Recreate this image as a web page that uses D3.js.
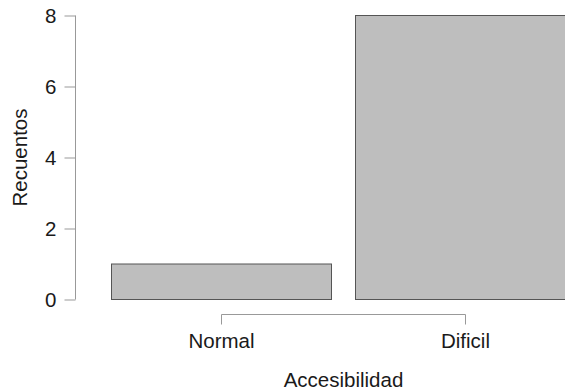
<!DOCTYPE html>
<html><head><meta charset="utf-8">
<script src="https://cdn.jsdelivr.net/npm/d3@7"></script>
<style>body{margin:0;background:#fff}svg{display:block}text{font-family:"Liberation Sans",Arial,sans-serif;fill:#1a1a1a}</style>
</head><body>
<script>
const categories = ["Normal", "Dificil"];
const counts = [1, 8];
const yTicks = [0, 2, 4, 6, 8];
const xTitle = "Accesibilidad";
const yTitle = "Recuentos";

const W = 565, H = 391;
const FS = "20.5px";
const svg = d3.select("body").append("svg").attr("width", W).attr("height", H);

const y = d3.scaleLinear().domain([0, 8]).range([299.5, 15.5]);
const x = d3.scaleBand().domain(categories).range([111, 575]).paddingInner(24 / 244).paddingOuter(0);

svg.selectAll("rect.bar").data(categories).enter().append("rect")
  .attr("class", "bar")
  .attr("x", d => Math.round(x(d)) + 0.5)
  .attr("width", Math.round(x.bandwidth()))
  .attr("y", (d, i) => y(counts[i]))
  .attr("height", (d, i) => y(0) - y(counts[i]))
  .attr("fill", "#bebebe").attr("stroke", "#555").attr("stroke-width", 1);

// y axis
const yAxis = d3.axisLeft(y).tickValues(yTicks).tickSize(11).tickPadding(8).tickSizeOuter(0);
const gy = svg.append("g").attr("transform", "translate(75.5,0)").call(yAxis);
gy.select(".domain").attr("stroke", "#999").attr("d", `M0,${y(0)}V${y(8)}`);
gy.selectAll(".tick line").attr("stroke", "#999");
gy.selectAll(".tick text").style("font-size", FS).attr("fill", "#1a1a1a").attr("dy", "0.36em");

// x axis
const centers = categories.map(d => Math.round(x(d)) + 0.5 + Math.round(x.bandwidth()) / 2);
const xAxis = d3.axisBottom(x).tickSize(10).tickPadding(9).tickSizeOuter(0);
const gx = svg.append("g").attr("transform", "translate(0,314.5)").call(xAxis);
gx.select(".domain").attr("stroke", "#999").attr("d", `M${centers[0]},0H${centers[1]}`);
gx.selectAll(".tick").attr("transform", (d, i) => `translate(${centers[i]},0)`);
gx.selectAll(".tick line").attr("stroke", "#999");
gx.selectAll(".tick text").style("font-size", FS).attr("fill", "#1a1a1a");

svg.append("text").attr("x", (centers[0] + centers[1]) / 2).attr("y", 387)
  .attr("text-anchor", "middle").style("font-size", FS).text(xTitle);
svg.append("text").attr("transform", `translate(27,${(y(0) + y(8)) / 2}) rotate(-90)`)
  .attr("text-anchor", "middle").style("font-size", FS).text(yTitle);
</script>
</body></html>
